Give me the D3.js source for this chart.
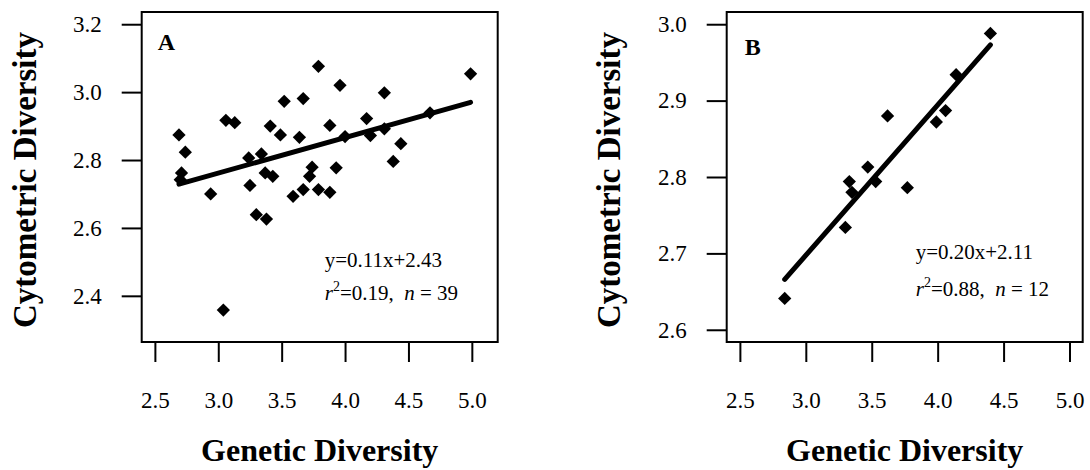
<!DOCTYPE html>
<html>
<head>
<meta charset="utf-8">
<script src="https://cdn.jsdelivr.net/npm/d3@7"></script>
<style>
  body { margin: 0; background: #fff; }
  svg text { font-family: "Liberation Serif", "Times New Roman", serif; fill: #000; }
</style>
</head>
<body>
<svg id="chart" width="1090" height="470"></svg>
<script>
// ----- data -----
// Panel A: genetic vs cytometric diversity (n = 39)
const panelA_x = [3.79, 4.99, 3.96, 4.31, 3.52, 3.67, 3.06, 3.13, 4.17, 4.67,
                  2.69, 3.41, 3.49, 3.64, 3.88, 4.00, 4.20, 4.31, 2.74, 4.44,
                  3.24, 3.34, 4.38, 2.71, 2.70, 3.37, 3.43, 3.74, 3.72, 3.93,
                  2.94, 3.25, 3.59, 3.67, 3.79, 3.88, 3.30, 3.38, 3.04];
const panelA_y = [3.076, 3.054, 3.020, 2.998, 2.973, 2.981, 2.917, 2.910, 2.922, 2.939,
                  2.874, 2.900, 2.874, 2.867, 2.902, 2.869, 2.872, 2.892, 2.823, 2.848,
                  2.806, 2.818, 2.796, 2.762, 2.742, 2.762, 2.752, 2.779, 2.752, 2.777,
                  2.700, 2.725, 2.693, 2.713, 2.713, 2.705, 2.639, 2.626, 2.358];
const fitA_x = [2.69, 4.99];
const fitA_y = [2.729, 2.970];

// Panel B (n = 12)
const panelB_x = [4.40, 4.14, 4.06, 3.99, 3.62, 3.47, 3.53, 3.33, 3.35, 3.77, 3.30, 2.84];
const panelB_y = [2.988, 2.934, 2.887, 2.872, 2.880, 2.813, 2.794, 2.794, 2.780, 2.786, 2.734, 2.641];
const fitB_x = [2.84, 4.40];
const fitB_y = [2.666, 2.973];

// Tick labels
const xTicks = [2.5, 3.0, 3.5, 4.0, 4.5, 5.0];
const yTicksA = [2.4, 2.6, 2.8, 3.0, 3.2];
const yTicksB = [2.6, 2.7, 2.8, 2.9, 3.0];

const svg = d3.select("#chart");
const fmt = d3.format(".1f");
const diamond = d3.symbol().type(d3.symbolSquare).size(88);

// Draw one scatter panel with its regression line and text
function draw_panel(p) {
    const x = d3.scaleLinear().domain(p.xDomain).range([p.left, p.right]);
    const y = d3.scaleLinear().domain(p.yDomain).range([p.bottom, p.top]);
    const g = svg.append("g");

    // ticks only, no axis line (box is drawn separately)
    const xAxis = d3.axisBottom(x).tickValues(xTicks).tickFormat(fmt)
        .tickSize(20).tickPadding(30);
    g.append("g")
        .attr("transform", `translate(0,${p.bottom})`)
        .call(xAxis)
        .call(a => a.select(".domain").remove())
        .call(a => a.selectAll("line").attr("stroke", "#000").attr("stroke-width", 2))
        .call(a => a.selectAll("text").attr("font-size", 23).attr("fill", "#000"));

    const yAxis = d3.axisLeft(y).tickValues(p.yTicks).tickFormat(fmt)
        .tickSize(20).tickPadding(20);
    g.append("g")
        .attr("transform", `translate(${p.left},0)`)
        .call(yAxis)
        .call(a => a.select(".domain").remove())
        .call(a => a.selectAll("line").attr("stroke", "#000").attr("stroke-width", 2))
        .call(a => a.selectAll("text").attr("font-size", 23).attr("fill", "#000"));

    // plot box
    g.append("rect")
        .attr("x", p.left).attr("y", p.top)
        .attr("width", p.right - p.left).attr("height", p.bottom - p.top)
        .attr("fill", "none").attr("stroke", "#000").attr("stroke-width", 2);

    // regression line
    const fit = p.fitX.map((v, i) => [v, p.fitY[i]]);
    g.append("path")
        .datum(fit)
        .attr("d", d3.line().x(d => x(d[0])).y(d => y(d[1])))
        .attr("stroke", "#000").attr("stroke-width", 5)
        .attr("stroke-linecap", "round").attr("fill", "none");

    // points as filled diamonds
    g.selectAll("path.pt")
        .data(p.xs.map((v, i) => [v, p.ys[i]]))
        .enter().append("path")
        .attr("class", "pt")
        .attr("d", diamond)
        .attr("transform", d => `translate(${x(d[0])},${y(d[1])}) rotate(45)`)
        .attr("fill", "#000");

    // panel letter
    g.append("text")
        .attr("x", p.left + p.labelDx).attr("y", p.labelY)
        .attr("font-size", 24).attr("font-weight", "bold")
        .text(p.label);

    // equation and stats
    g.append("text")
        .attr("x", p.left + p.noteDx).attr("y", p.noteY1)
        .attr("font-size", 21)
        .text(p.eq);
    const t2 = g.append("text")
        .attr("x", p.left + p.noteDx).attr("y", p.noteY2)
        .attr("font-size", 21)
        .style("white-space", "pre");
    t2.append("tspan").attr("font-style", "italic").text("r");
    t2.append("tspan").attr("font-size", 14).attr("dy", -9).text("2");
    t2.append("tspan").attr("dy", 9).text(`=${p.r2},  `);
    t2.append("tspan").attr("font-style", "italic").text("n");
    t2.append("tspan").text(` = ${p.n}`);

    // axis titles
    g.append("text")
        .attr("x", (p.left + p.right) / 2).attr("y", 461)
        .attr("text-anchor", "middle")
        .attr("font-size", 32).attr("font-weight", "bold")
        .text("Genetic Diversity");
    g.append("text")
        .attr("transform", `translate(${p.yTitleX},180) rotate(-90)`)
        .attr("text-anchor", "middle")
        .attr("font-size", 33).attr("font-weight", "bold")
        .text("Cytometric Diversity");
}

draw_panel({
    left: 141.7, right: 497.7, top: 12, bottom: 342,
    xDomain: [2.396, 5.204], yDomain: [2.264, 3.236], yTicks: yTicksA,
    xs: panelA_x, ys: panelA_y, fitX: fitA_x, fitY: fitA_y,
    label: "A", labelDx: 16, labelY: 50,
    eq: "y=0.11x+2.43", r2: "0.19", n: 39, noteDx: 183, noteY1: 267, noteY2: 300,
    yTitleX: 36
});

draw_panel({
    left: 726.7, right: 1082.7, top: 12, bottom: 342,
    xDomain: [2.4, 5.1], yDomain: [2.584, 3.016], yTicks: yTicksB,
    xs: panelB_x, ys: panelB_y, fitX: fitB_x, fitY: fitB_y,
    label: "B", labelDx: 18, labelY: 55,
    eq: "y=0.20x+2.11", r2: "0.88", n: 12, noteDx: 189, noteY1: 259, noteY2: 296,
    yTitleX: 620
});
</script>
</body>
</html>
